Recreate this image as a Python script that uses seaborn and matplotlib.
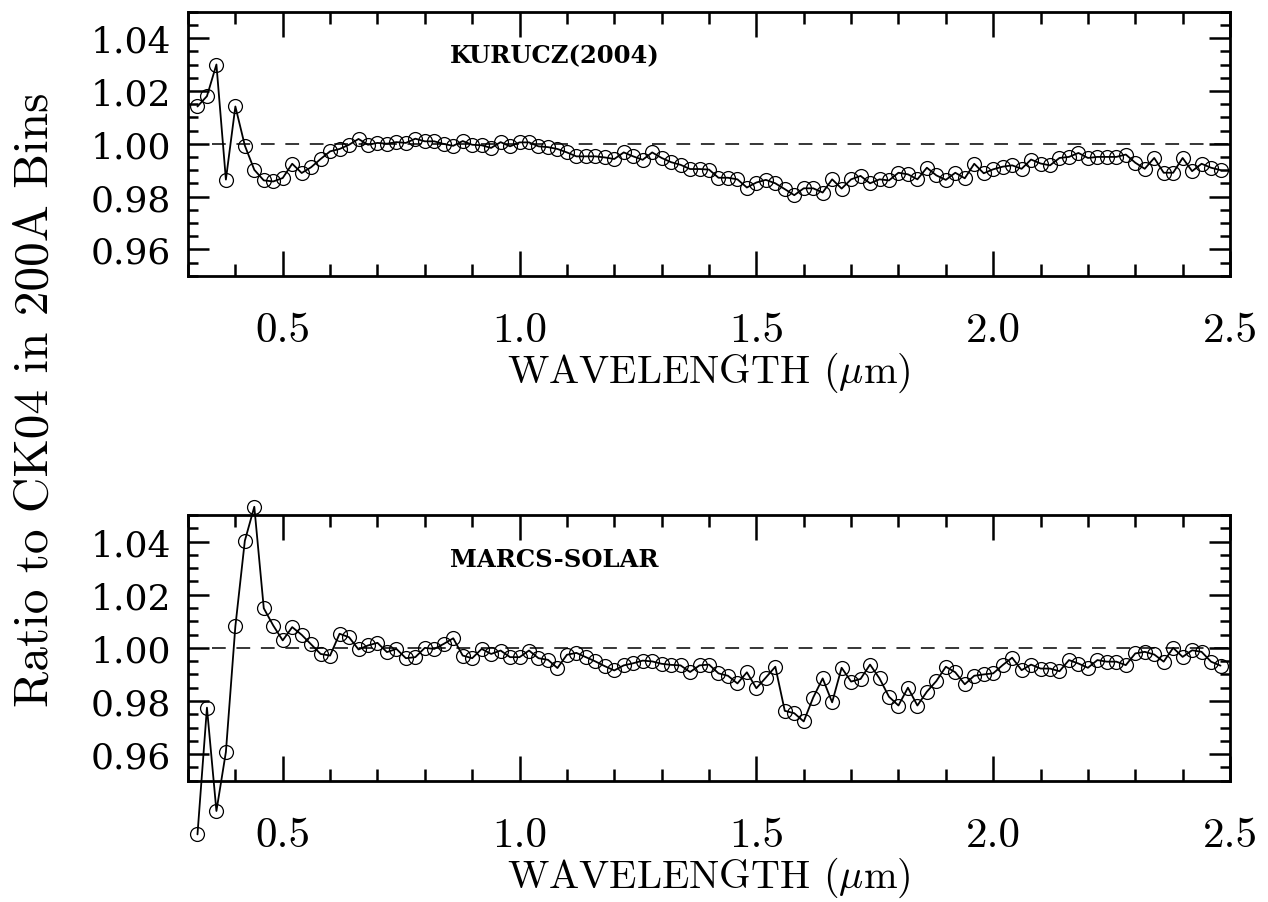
import numpy as np
import pandas as pd
import matplotlib
matplotlib.use("Agg")
import matplotlib.pyplot as plt
from matplotlib.ticker import MultipleLocator, FormatStrFormatter
import seaborn as sns

# ---------------- data ----------------
wavelength_um = [
    0.32, 0.34, 0.36, 0.38, 0.40, 0.42, 0.44, 0.46, 0.48, 0.50,
    0.52, 0.54, 0.56, 0.58, 0.60, 0.62, 0.64, 0.66, 0.68, 0.70,
    0.72, 0.74, 0.76, 0.78, 0.80, 0.82, 0.84, 0.86, 0.88, 0.90,
    0.92, 0.94, 0.96, 0.98, 1.00, 1.02, 1.04, 1.06, 1.08, 1.10,
    1.12, 1.14, 1.16, 1.18, 1.20, 1.22, 1.24, 1.26, 1.28, 1.30,
    1.32, 1.34, 1.36, 1.38, 1.40, 1.42, 1.44, 1.46, 1.48, 1.50,
    1.52, 1.54, 1.56, 1.58, 1.60, 1.62, 1.64, 1.66, 1.68, 1.70,
    1.72, 1.74, 1.76, 1.78, 1.80, 1.82, 1.84, 1.86, 1.88, 1.90,
    1.92, 1.94, 1.96, 1.98, 2.00, 2.02, 2.04, 2.06, 2.08, 2.10,
    2.12, 2.14, 2.16, 2.18, 2.20, 2.22, 2.24, 2.26, 2.28, 2.30,
    2.32, 2.34, 2.36, 2.38, 2.40, 2.42, 2.44, 2.46, 2.48,
]

kurucz_ratio = [
    1.0141, 1.0180, 1.0300, 0.9864, 1.0141, 0.9993, 0.9901, 0.9861, 0.9857, 0.9870,
    0.9924, 0.9889, 0.9911, 0.9942, 0.9971, 0.9980, 0.9996, 1.0018, 0.9996, 1.0003,
    1.0000, 1.0006, 1.0003, 1.0019, 1.0009, 1.0009, 0.9999, 0.9992, 1.0010, 0.9996,
    0.9994, 0.9984, 1.0006, 0.9990, 1.0005, 1.0005, 0.9990, 0.9987, 0.9980, 0.9967,
    0.9952, 0.9952, 0.9952, 0.9948, 0.9942, 0.9967, 0.9952, 0.9939, 0.9967, 0.9946,
    0.9930, 0.9920, 0.9904, 0.9904, 0.9902, 0.9871, 0.9871, 0.9865, 0.9834, 0.9853,
    0.9863, 0.9850, 0.9828, 0.9805, 0.9831, 0.9831, 0.9815, 0.9865, 0.9830, 0.9865,
    0.9878, 0.9850, 0.9865, 0.9861, 0.9890, 0.9884, 0.9865, 0.9909, 0.9880, 0.9863,
    0.9890, 0.9869, 0.9924, 0.9888, 0.9903, 0.9913, 0.9918, 0.9905, 0.9940, 0.9925,
    0.9918, 0.9946, 0.9950, 0.9965, 0.9946, 0.9950, 0.9950, 0.9950, 0.9959, 0.9928,
    0.9905, 0.9946, 0.9890, 0.9890, 0.9946, 0.9896, 0.9924, 0.9909, 0.9900,
]

marcs_ratio = [
    0.9298, 0.9775, 0.9386, 0.9608, 1.0081, 1.0403, 1.0531, 1.0149, 1.0084, 1.0028,
    1.0078, 1.0049, 1.0013, 0.9977, 0.9971, 1.0053, 1.0040, 0.9994, 1.0009, 1.0019,
    0.9984, 0.9996, 0.9961, 0.9965, 1.0000, 0.9996, 1.0015, 1.0036, 0.9971, 0.9961,
    0.9996, 0.9977, 0.9990, 0.9965, 0.9965, 0.9990, 0.9961, 0.9955, 0.9924, 0.9974,
    0.9981, 0.9965, 0.9949, 0.9931, 0.9915, 0.9934, 0.9942, 0.9952, 0.9949, 0.9940,
    0.9936, 0.9934, 0.9909, 0.9934, 0.9937, 0.9904, 0.9895, 0.9866, 0.9908, 0.9848,
    0.9888, 0.9929, 0.9763, 0.9754, 0.9723, 0.9813, 0.9885, 0.9795, 0.9925, 0.9873,
    0.9883, 0.9937, 0.9885, 0.9816, 0.9783, 0.9850, 0.9783, 0.9835, 0.9875, 0.9929,
    0.9908, 0.9863, 0.9895, 0.9900, 0.9904, 0.9935, 0.9963, 0.9916, 0.9937, 0.9922,
    0.9922, 0.9912, 0.9954, 0.9941, 0.9925, 0.9954, 0.9948, 0.9948, 0.9935, 0.9979,
    0.9985, 0.9975, 0.9948, 1.0000, 0.9966, 0.9991, 0.9985, 0.9948, 0.9933,
]

panel_labels = ["KURUCZ(2004)", "MARCS-SOLAR"]
x_ticks = [0.5, 1.0, 1.5, 2.0, 2.5]
y_ticks = [0.96, 0.98, 1.00, 1.02, 1.04]
reference_level = 1.0
dash_start = 0.35
x_range = (0.3, 2.5)
y_range = (0.95, 1.05)

# ---------------- style ----------------
sns.set_style("white")
plt.rcParams["font.family"] = ["cmr10", "DejaVu Serif"]
plt.rcParams["mathtext.fontset"] = "cm"
plt.rcParams["axes.formatter.use_mathtext"] = True
plt.rcParams["axes.unicode_minus"] = False
for key in ["text.color", "axes.labelcolor", "xtick.color", "ytick.color",
            "axes.edgecolor"]:
    plt.rcParams[key] = "black"

fig = plt.figure(figsize=(12.68, 9.03), dpi=100)
ax_top = fig.add_axes([188 / 1268, 1 - 276.7 / 903, 1042 / 1268, 264 / 903])
ax_bot = fig.add_axes([188 / 1268, 1 - 781.7 / 903, 1042 / 1268, 265.7 / 903])

series = [kurucz_ratio, marcs_ratio]
for ax, vals, label in zip([ax_top, ax_bot], series, panel_labels):
    df = pd.DataFrame({"wavelength": wavelength_um, "ratio": vals})
    ax.hlines(reference_level, dash_start, x_range[1], colors="black",
              linewidth=1.1, linestyles=(0, (9, 7)), zorder=1)
    sns.lineplot(data=df, x="wavelength", y="ratio", ax=ax, color="black",
                 linewidth=1.3, marker="o", markersize=10,
                 markerfacecolor="none", markeredgecolor="black",
                 markeredgewidth=0.9, estimator=None, errorbar=None,
                 sort=False, zorder=3)
    for ln in ax.lines:
        ln.set_clip_on(False)

    ax.set_xlim(*x_range)
    ax.set_ylim(*y_range)
    ax.xaxis.set_major_locator(plt.FixedLocator(x_ticks))
    ax.xaxis.set_minor_locator(MultipleLocator(0.1))
    ax.yaxis.set_major_locator(plt.FixedLocator(y_ticks))
    ax.yaxis.set_minor_locator(MultipleLocator(0.005))
    ax.xaxis.set_major_formatter(FormatStrFormatter("%.1f"))
    ax.yaxis.set_major_formatter(FormatStrFormatter("%.2f"))

    for s in ax.spines.values():
        s.set_linewidth(2.0)
        s.set_color("black")

    ax.tick_params(axis="both", which="both", direction="in", top=True,
                   right=True, bottom=True, left=True, width=1.8,
                   color="black", labelcolor="black")
    ax.tick_params(axis="x", which="major", length=18, pad=26,
                   labelsize=31)
    ax.tick_params(axis="x", which="minor", length=8.5)
    ax.tick_params(axis="y", which="major", length=15, pad=12,
                   labelsize=26, labelfontfamily="DejaVu Serif")
    ax.tick_params(axis="y", which="minor", length=7.2)

    ax.set_xlabel(r"WAVELENGTH ($\mu$m)", fontsize=29, labelpad=0)
    ax.set_ylabel("")

    ax.text(0.853, 1.0335, label, fontsize=17.5, fontweight="bold",
            family="DejaVu Serif", ha="left", va="center", color="black")

fig.text(36 / 1268, 1 - 400 / 903, "Ratio to CK04 in 200A Bins",
         rotation=90, ha="center", va="center", fontsize=35.5,
         color="black")

fig.savefig("out.png", dpi=100)
